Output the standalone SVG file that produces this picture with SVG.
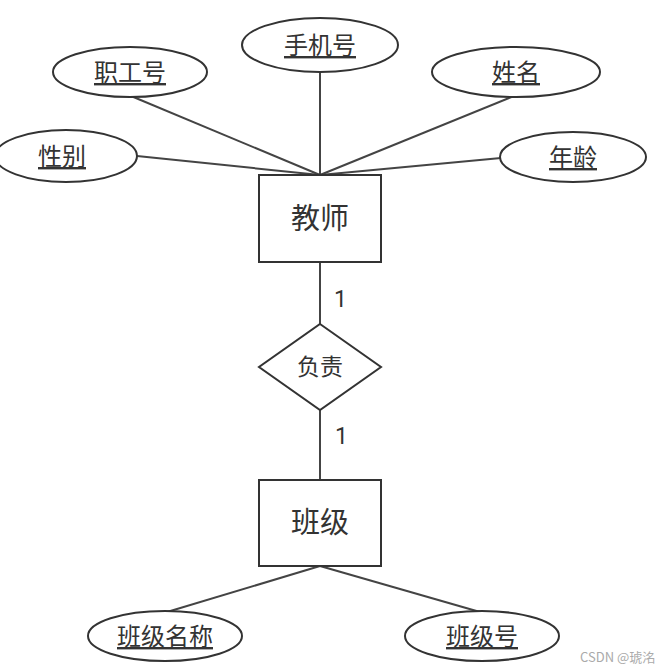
<svg xmlns="http://www.w3.org/2000/svg" width="656" height="672" viewBox="0 0 656 672">
<style>
.shape{fill:#fff;stroke:#333;stroke-width:2}
.line{stroke:#444;stroke-width:2;fill:none}
.attr{font-family:"Noto Sans CJK SC","Noto Sans",sans-serif;font-size:24px;fill:#333;text-anchor:middle;text-decoration:underline}
.ent{font-family:"Noto Sans CJK SC","Noto Sans",sans-serif;font-size:29px;fill:#333;text-anchor:middle}
.rel{font-family:"Noto Sans CJK SC","Noto Sans",sans-serif;font-size:23px;fill:#333;text-anchor:middle}
.card{font-family:"Roboto","Noto Sans",sans-serif;font-size:23px;fill:#333}
.wm{font-family:"Noto Sans CJK SC","Liberation Sans",sans-serif;font-size:13px;fill:#aaa}
</style>
<rect width="656" height="672" fill="#fff"/>
<g id="connectors">
<line class="line" x1="320" y1="175" x2="320" y2="72"/>
<line class="line" x1="320" y1="175" x2="131" y2="96"/>
<line class="line" x1="320" y1="175" x2="514" y2="96"/>
<line class="line" x1="320" y1="175" x2="137" y2="156"/>
<line class="line" x1="320" y1="175" x2="501" y2="158"/>
<line class="line" x1="320" y1="262" x2="320" y2="324"/>
<line class="line" x1="320" y1="410" x2="320" y2="480"/>
<line class="line" x1="320" y1="566" x2="167" y2="612"/>
<line class="line" x1="320" y1="566" x2="480" y2="612"/>
</g>
<g id="attr-phone"><ellipse class="shape" cx="320" cy="45" rx="78" ry="27"/><text class="attr" x="320" y="54">手机号</text></g>
<g id="attr-staffno"><ellipse class="shape" cx="130" cy="72" rx="77" ry="25"/><text class="attr" x="130" y="81">职工号</text></g>
<g id="attr-name"><ellipse class="shape" cx="516" cy="72" rx="84" ry="25"/><text class="attr" x="516" y="81">姓名</text></g>
<g id="attr-gender"><ellipse class="shape" cx="66" cy="156" rx="71" ry="26"/><text class="attr" x="62" y="165">性别</text></g>
<g id="attr-age"><ellipse class="shape" cx="573" cy="157" rx="73" ry="25"/><text class="attr" x="573" y="166">年龄</text></g>
<g id="teacher"><rect class="shape" x="259" y="175" width="122" height="87"/><text class="ent" x="320" y="229">教师</text></g>
<g id="rel-responsible"><polygon class="shape" points="320,324 381,367 320,410 259,367"/><text class="rel" x="320" y="375">负责</text></g>
<text class="card" x="334" y="307">1</text>
<text class="card" x="335" y="444">1</text>
<g id="class"><rect class="shape" x="259" y="480" width="122" height="86"/><text class="ent" x="320" y="533">班级</text></g>
<g id="attr-classname"><ellipse class="shape" cx="165" cy="636" rx="77" ry="25"/><text class="attr" x="165" y="645">班级名称</text></g>
<g id="attr-classno"><ellipse class="shape" cx="482" cy="636" rx="77" ry="25"/><text class="attr" x="482" y="645">班级号</text></g>
<text class="wm" x="580" y="662">CSDN @琥洺</text>
</svg>
